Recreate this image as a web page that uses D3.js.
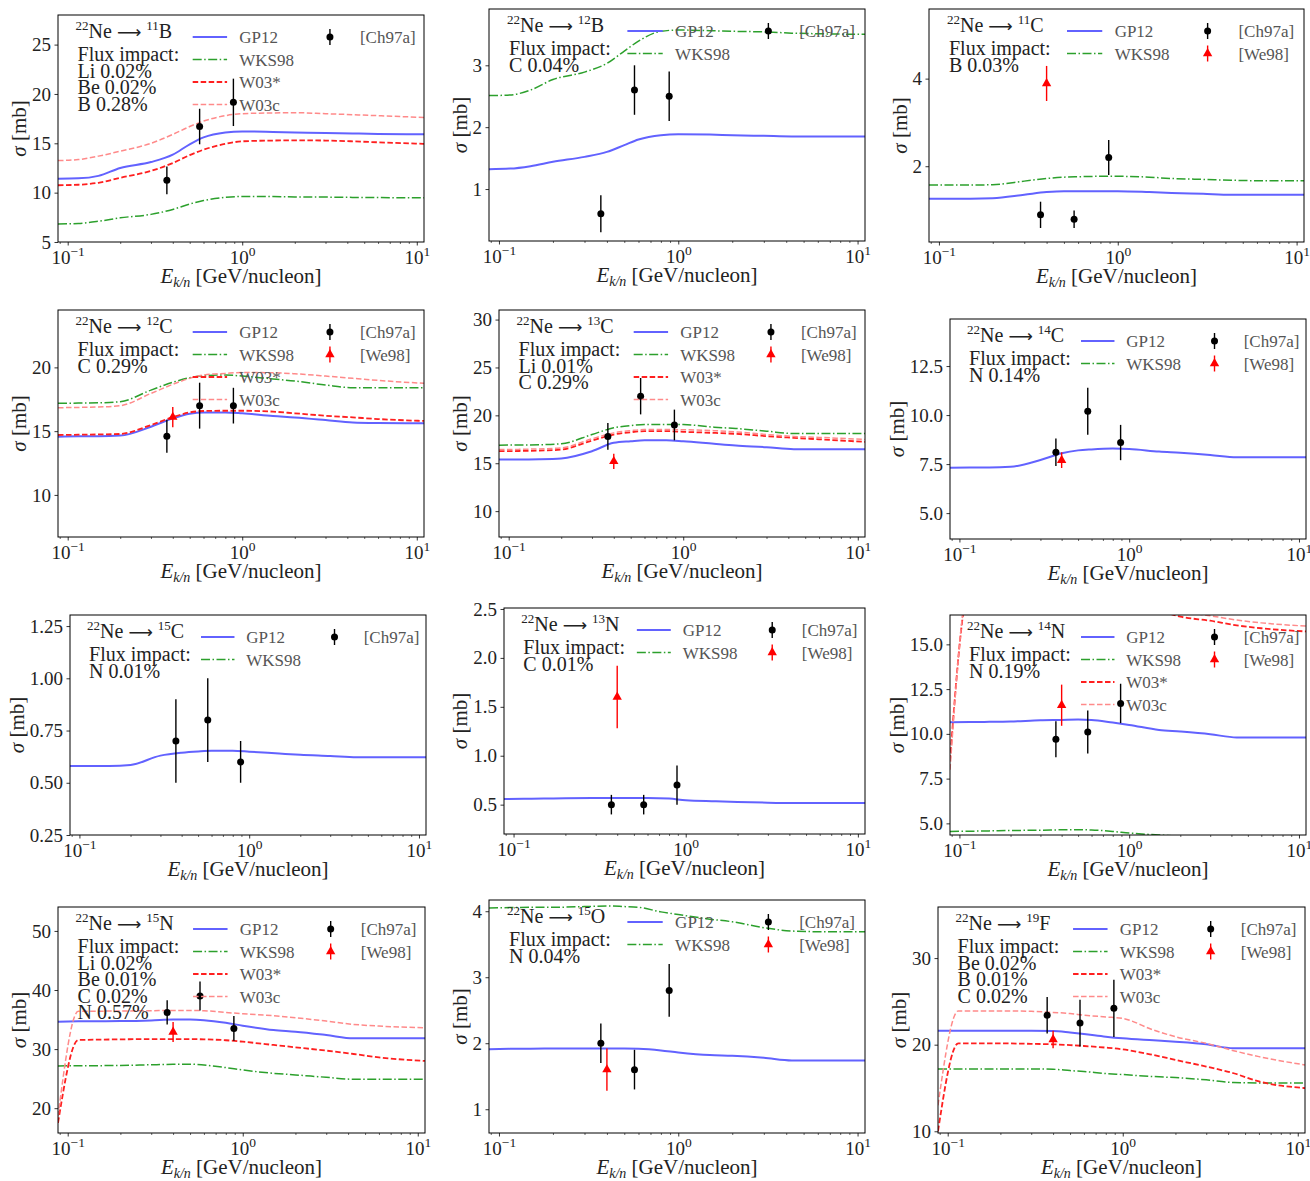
<!DOCTYPE html>
<html><head><meta charset="utf-8">
<script src="https://cdn.jsdelivr.net/npm/d3@7"></script>
<style>body{margin:0;background:#fff}</style>
</head><body>
<svg id="c" width="1310" height="1181" xmlns="http://www.w3.org/2000/svg"></svg>
<script>
// ---------------- DATA ----------------
const energies = [0.088, 0.115, 0.15, 0.2, 0.3, 0.4, 0.5, 0.6, 0.8, 1, 1.5, 2, 3, 4.3, 6, 11];
const ch97aE = [0.37, 0.57, 0.89];
const we98E = [0.40];
const xDomain = [0.088, 11];
const xMajorTicks = [0.1, 1, 10];
const xMinorTicks = [0.09, 0.2, 0.3, 0.4, 0.5, 0.6, 0.7, 0.8, 0.9, 2, 3, 4, 5, 6, 7, 8, 9];

// 22Ne -> 11B
const gp12_B11  = [11.42, 11.45, 11.7, 12.5, 13.1, 13.85, 14.9, 15.6, 16.1, 16.2, 16.15, 16.1, 16.05, 16.0, 15.95, 15.92];
const wks98_B11 = [6.83, 6.88, 7.1, 7.45, 7.8, 8.3, 8.85, 9.2, 9.52, 9.62, 9.6, 9.57, 9.55, 9.52, 9.5, 9.48];
const w03s_B11  = [10.75, 10.8, 11.0, 11.5, 12.2, 13.0, 13.8, 14.35, 14.95, 15.2, 15.28, 15.3, 15.28, 15.2, 15.1, 14.95];
const w03c_B11  = [13.25, 13.35, 13.7, 14.2, 15.0, 15.9, 16.7, 17.25, 17.8, 18.0, 18.08, 18.1, 18.0, 17.9, 17.8, 17.62];
const ch97a_B11 = [11.25, 16.7, 19.15];
const ch97aErr_B11 = [1.4, 1.8, 2.4];

// 22Ne -> 12B
const gp12_B12  = [1.32, 1.33, 1.37, 1.44, 1.52, 1.6, 1.71, 1.8, 1.87, 1.885, 1.88, 1.87, 1.86, 1.85, 1.85, 1.85];
const wks98_B12 = [2.51, 2.52, 2.6, 2.77, 2.89, 3.03, 3.23, 3.39, 3.55, 3.57, 3.56, 3.55, 3.54, 3.52, 3.51, 3.5];
const ch97a_B12 = [0.6, 2.6, 2.5];
const ch97aErr_B12 = [0.3, 0.4, 0.4];

// 22Ne -> 11C
const gp12_C11  = [1.26, 1.26, 1.26, 1.27, 1.35, 1.41, 1.43, 1.43, 1.43, 1.43, 1.41, 1.39, 1.37, 1.35, 1.35, 1.35];
const wks98_C11 = [1.57, 1.57, 1.57, 1.58, 1.66, 1.72, 1.75, 1.76, 1.77, 1.77, 1.75, 1.72, 1.7, 1.68, 1.67, 1.67];
const ch97a_C11 = [0.89, 0.79, 2.2];
const ch97aErr_C11 = [0.3, 0.2, 0.4];
const we98_C11 = [3.89];
const we98Err_C11 = [0.4];

// 22Ne -> 12C
const gp12_C12  = [14.57, 14.6, 14.6, 14.65, 15.35, 16.0, 16.37, 16.47, 16.47, 16.4, 16.19, 16.08, 15.87, 15.67, 15.63, 15.61];
const wks98_C12 = [17.18, 17.2, 17.22, 17.31, 18.22, 18.83, 19.19, 19.35, 19.4, 19.32, 19.09, 18.93, 18.62, 18.41, 18.41, 18.41];
const w03s_C12  = [14.7, 14.72, 14.74, 14.78, 15.48, 16.1, 16.47, 16.58, 16.6, 16.6, 16.53, 16.4, 16.21, 16.08, 15.95, 15.8];
const w03c_C12  = [16.84, 16.86, 16.9, 17.0, 17.96, 18.67, 19.14, 19.4, 19.53, 19.6, 19.58, 19.5, 19.32, 19.14, 18.98, 18.75];
const ch97a_C12 = [14.6, 17.0, 17.0];
const ch97aErr_C12 = [1.3, 1.8, 1.4];
const we98_C12 = [16.1];
const we98Err_C12 = [0.8];

// 22Ne -> 13C
const gp12_C13  = [15.39, 15.4, 15.42, 15.5, 16.26, 17.13, 17.3, 17.4, 17.4, 17.3, 17.03, 16.85, 16.68, 16.47, 16.47, 16.47];
const wks98_C13 = [16.89, 16.9, 16.93, 17.03, 18.0, 18.7, 18.94, 19.04, 19.05, 19.04, 18.77, 18.63, 18.35, 18.1, 18.1, 18.1];
const w03s_C13  = [16.26, 16.28, 16.32, 16.43, 17.37, 18.0, 18.24, 18.35, 18.35, 18.28, 18.17, 18.07, 17.83, 17.65, 17.5, 17.23];
const w03c_C13  = [16.43, 16.45, 16.5, 16.6, 17.55, 18.17, 18.4, 18.52, 18.52, 18.5, 18.4, 18.28, 18.0, 17.8, 17.7, 17.48];
const ch97a_C13 = [17.8, 22.0, 19.0];
const ch97aErr_C13 = [1.4, 1.9, 1.6];
const we98_C13 = [15.2];
const we98Err_C13 = [0.8];

// 22Ne -> 14C
const gp12_C14  = [7.32, 7.33, 7.33, 7.36, 7.71, 8.05, 8.2, 8.25, 8.29, 8.27, 8.14, 8.08, 7.97, 7.85, 7.85, 7.85];
const ch97a_C14 = [8.1, 10.2, 8.6];
const ch97aErr_C14 = [0.7, 1.2, 0.9];
const we98_C14 = [7.7];
const we98Err_C14 = [0.4];

// 22Ne -> 15C
const gp12_C15  = [0.58, 0.58, 0.58, 0.585, 0.63, 0.644, 0.65, 0.653, 0.653, 0.649, 0.64, 0.634, 0.628, 0.622, 0.622, 0.622];
const ch97a_C15 = [0.7, 0.8, 0.6];
const ch97aErr_C15 = [0.2, 0.2, 0.1];

// 22Ne -> 13N
const gp12_N13  = [0.558, 0.56, 0.562, 0.565, 0.567, 0.568, 0.568, 0.568, 0.562, 0.544, 0.534, 0.527, 0.52, 0.517, 0.517, 0.517];
const ch97a_N13 = [0.5, 0.5, 0.7];
const ch97aErr_N13 = [0.1, 0.1, 0.2];
const we98_N13 = [1.6];
const we98Err_N13 = [0.32];

// 22Ne -> 14N
const gp12_N14  = [10.65, 10.66, 10.67, 10.69, 10.76, 10.78, 10.8, 10.78, 10.63, 10.5, 10.22, 10.13, 9.98, 9.8, 9.8, 9.8];
const wks98_N14 = [4.55, 4.56, 4.58, 4.6, 4.62, 4.64, 4.65, 4.63, 4.55, 4.46, 4.35, 4.28, 4.15, 4.02, 4.02, 4.02];
const w03s_N14  = [8.5, 18.2, 18.3, 18.4, 18.5, 18.5, 18.5, 18.4, 18.2, 17.4, 16.9, 16.55, 16.32, 16.06, 15.9, 15.72];
const w03c_N14  = [8.0, 18.5, 18.6, 18.7, 18.8, 18.8, 18.8, 18.7, 18.5, 18.2, 17.5, 16.9, 16.6, 16.36, 16.2, 16.02];
const ch97a_N14 = [9.7, 10.1, 11.7];
const ch97aErr_N14 = [1.0, 1.2, 1.1];
const we98_N14 = [11.6];
const we98Err_N14 = [1.15];

// 22Ne -> 15N
const gp12_N15  = [34.63, 34.7, 34.72, 34.74, 34.85, 35.0, 35.0, 34.9, 34.46, 33.96, 33.22, 32.94, 32.38, 31.82, 31.82, 31.82];
const wks98_N15 = [27.15, 27.18, 27.2, 27.22, 27.35, 27.43, 27.45, 27.3, 26.87, 26.47, 25.9, 25.63, 25.23, 24.9, 24.9, 24.9];
const w03s_N15  = [17.5, 31.54, 31.6, 31.65, 31.7, 31.7, 31.7, 31.65, 31.5, 31.25, 30.7, 30.3, 29.74, 29.17, 28.6, 27.99];
const w03c_N15  = [18.6, 36.4, 36.42, 36.45, 36.5, 36.55, 36.55, 36.5, 36.2, 35.98, 35.64, 35.3, 34.74, 34.18, 33.9, 33.62];
const ch97a_N15 = [36.2, 39.0, 33.5];
const ch97aErr_N15 = [2.05, 2.45, 2.1];
const we98_N15 = [32.9];
const we98Err_N15 = [1.7];

// 22Ne -> 15O
const gp12_O15  = [1.908, 1.915, 1.918, 1.92, 1.92, 1.92, 1.92, 1.915, 1.89, 1.86, 1.82, 1.81, 1.78, 1.74, 1.74, 1.74];
const wks98_O15 = [4.05, 4.055, 4.06, 4.06, 4.07, 4.08, 4.07, 4.06, 3.99, 3.95, 3.88, 3.84, 3.75, 3.7, 3.69, 3.69];
const ch97a_O15 = [2.0, 1.6, 2.8];
const ch97aErr_O15 = [0.3, 0.3, 0.4];
const we98_O15 = [1.6];
const we98Err_O15 = [0.32];

// 22Ne -> 19F
const gp12_F19  = [21.6, 21.6, 21.6, 21.6, 21.6, 21.57, 21.4, 21.23, 20.92, 20.73, 20.5, 20.34, 20.04, 19.58, 19.58, 19.58];
const wks98_F19 = [17.2, 17.2, 17.2, 17.2, 17.2, 17.16, 17.01, 16.9, 16.67, 16.55, 16.32, 16.2, 15.94, 15.63, 15.58, 15.56];
const w03s_F19  = [10.0, 20.15, 20.15, 20.15, 20.1, 20.04, 19.95, 19.85, 19.66, 19.46, 18.8, 18.24, 17.47, 16.7, 15.75, 14.98];
const w03c_F19  = [13.0, 23.9, 23.9, 23.9, 23.85, 23.72, 23.6, 23.41, 23.2, 23.03, 21.69, 20.92, 20.15, 19.31, 18.62, 17.66];
const ch97a_F19 = [23.4, 22.5, 24.2];
const ch97aErr_F19 = [2.1, 2.7, 3.3];
const we98_F19 = [20.6];
const we98Err_F19 = [1.0];

// Panel texts
const isotopes = [["11","B"],["12","B"],["11","C"],["12","C"],["13","C"],["14","C"],["15","C"],["13","N"],["14","N"],["15","N"],["15","O"],["19","F"]];
const fluxLines = [
  ["Li 0.02%","Be 0.02%","B 0.28%"], ["C 0.04%"], ["B 0.03%"], ["C 0.29%"], ["Li 0.01%","C 0.29%"], ["N 0.14%"],
  ["N 0.01%"], ["C 0.01%"], ["N 0.19%"], ["Li 0.02%","Be 0.01%","C 0.02%","N 0.57%"], ["N 0.04%"], ["Be 0.02%","B 0.01%","C 0.02%"]
];
const yTickValues = [
  [5,10,15,20,25], [1,2,3], [2,4], [10,15,20], [10,15,20,25,30], [5.0,7.5,10.0,12.5],
  [0.25,0.50,0.75,1.00,1.25], [0.5,1.0,1.5,2.0,2.5], [5.0,7.5,10.0,12.5,15.0], [20,30,40,50], [1,2,3,4], [10,20,30]
];
const yTickFormats = ["d","d","d","d","d",".1f",".2f",".1f",".1f","d","d","d"];
const yDomains = [
  [5,28], [0.16,3.91], [0.27,5.59], [6.7,24.5], [7.3,31.0], [3.68,14.9],
  [0.25,1.303], [0.2,2.51], [4.35,16.64], [15.8,54.05], [0.64,4.17], [9.8,35.9]
];

// ---------------- STYLE / LAYOUT ----------------
const boxes = [
  [58,15,424,242], [489,9,865,241], [929,9,1304,242],
  [58,310,424,537], [499,310,865,537], [950,319,1306,539],
  [70,615,426,835], [504,608,865,834], [950,615,1306,835],
  [58,907,425,1133], [489,900,865,1133], [938,907,1305,1133]
];
const modelStyle = {
  "GP12":  {color:"#6262ff", width:2.0, dash:null},
  "WKS98": {color:"#2ca02c", width:1.5, dash:"9,2.5,1.5,2.5"},
  "W03*":  {color:"#ff1f1f", width:1.8, dash:"5.5,2.5"},
  "W03c":  {color:"#ff8a8a", width:1.5, dash:"5.5,2.5"}
};
const serif = "'Liberation Serif','Times New Roman',serif";

const P = (gp, wk, ws, wc, ch, chE, we, weE, legModels, legExp) => ({gp, wk, ws, wc, ch, chE, we, weE, legModels, legExp});
const ALL4 = ["GP12","WKS98","W03*","W03c"], TWO = ["GP12","WKS98"];
const panels = [
  P(gp12_B11, wks98_B11, w03s_B11, w03c_B11, ch97a_B11, ch97aErr_B11, null, null, ALL4, ["Ch97a"]),
  P(gp12_B12, wks98_B12, null, null, ch97a_B12, ch97aErr_B12, null, null, TWO, ["Ch97a"]),
  P(gp12_C11, wks98_C11, null, null, ch97a_C11, ch97aErr_C11, we98_C11, we98Err_C11, TWO, ["Ch97a","We98"]),
  P(gp12_C12, wks98_C12, w03s_C12, w03c_C12, ch97a_C12, ch97aErr_C12, we98_C12, we98Err_C12, ALL4, ["Ch97a","We98"]),
  P(gp12_C13, wks98_C13, w03s_C13, w03c_C13, ch97a_C13, ch97aErr_C13, we98_C13, we98Err_C13, ALL4, ["Ch97a","We98"]),
  P(gp12_C14, null, null, null, ch97a_C14, ch97aErr_C14, we98_C14, we98Err_C14, TWO, ["Ch97a","We98"]),
  P(gp12_C15, null, null, null, ch97a_C15, ch97aErr_C15, null, null, TWO, ["Ch97a"]),
  P(gp12_N13, null, null, null, ch97a_N13, ch97aErr_N13, we98_N13, we98Err_N13, TWO, ["Ch97a","We98"]),
  P(gp12_N14, wks98_N14, w03s_N14, w03c_N14, ch97a_N14, ch97aErr_N14, we98_N14, we98Err_N14, ALL4, ["Ch97a","We98"]),
  P(gp12_N15, wks98_N15, w03s_N15, w03c_N15, ch97a_N15, ch97aErr_N15, we98_N15, we98Err_N15, ALL4, ["Ch97a","We98"]),
  P(gp12_O15, wks98_O15, null, null, ch97a_O15, ch97aErr_O15, we98_O15, we98Err_O15, TWO, ["Ch97a","We98"]),
  P(gp12_F19, wks98_F19, w03s_F19, w03c_F19, ch97a_F19, ch97aErr_F19, we98_F19, we98Err_F19, ALL4, ["Ch97a","We98"])
];

const svg = d3.select("#c");
svg.append("rect").attr("width",1310).attr("height",1181).attr("fill","#fff");
const defs = svg.append("defs");
const tri = d3.symbol().type(d3.symbolTriangle).size(38);

function styleLine(sel, st) {
  sel.attr("fill","none").attr("stroke",st.color).attr("stroke-width",st.width);
  if (st.dash) sel.attr("stroke-dasharray", st.dash);
  return sel;
}

panels.forEach((p, k) => {
  const [x0,y0,x1,y1] = boxes[k];
  const W = x1-x0, H = y1-y0;
  const x = d3.scaleLog().domain(xDomain).range([x0,x1]);
  const y = d3.scaleLinear().domain(yDomains[k]).range([y1,y0]);
  const g = svg.append("g");
  const cid = "clip"+k;
  defs.append("clipPath").attr("id",cid).append("rect").attr("x",x0).attr("y",y0).attr("width",W).attr("height",H);

  const line = d3.line().x((d,i)=>x(energies[i])).y(d=>y(d)).curve(d3.curveMonotoneX);
  const series = [["GP12",p.gp],["WKS98",p.wk],["W03*",p.ws],["W03c",p.wc]];
  const lg = g.append("g").attr("clip-path",`url(#${cid})`);
  series.forEach(([name, vals]) => {
    if (!vals) return;
    styleLine(lg.append("path").attr("d", line(vals)), modelStyle[name]).attr("stroke-linejoin","round");
  });

  // experimental data
  const dg = g.append("g").attr("clip-path",`url(#${cid})`);
  if (p.ch) {
    p.ch.forEach((v,i) => {
      const e = p.chE[i], xx = x(ch97aE[i]);
      dg.append("line").attr("x1",xx).attr("x2",xx).attr("y1",y(v-e)).attr("y2",y(v+e)).attr("stroke","#000").attr("stroke-width",1.4);
      dg.append("circle").attr("cx",xx).attr("cy",y(v)).attr("r",3.5).attr("fill","#000");
    });
  }
  if (p.we) {
    p.we.forEach((v,i) => {
      const e = p.weE[i], xx = x(we98E[i]);
      dg.append("line").attr("x1",xx).attr("x2",xx).attr("y1",y(v-e)).attr("y2",y(v+e)).attr("stroke","#ff0000").attr("stroke-width",1.4);
      dg.append("path").attr("d",tri()).attr("transform",`translate(${xx},${y(v)})`).attr("fill","#ff0000");
    });
  }

  // axes
  const axB = g.append("g").attr("transform",`translate(0,${y1})`)
    .call(d3.axisBottom(x).tickValues(xMajorTicks).tickSize(3.5).tickPadding(5).tickFormat(""));
  axB.selectAll(".tick text").each(function(d){
    const t = d3.select(this);
    t.text("");
    t.append("tspan").text("10");
    const ex = Math.round(Math.log10(d));
    t.append("tspan").attr("font-size",13.5).attr("dy",-8).text(ex < 0 ? "\u2212"+(-ex) : String(ex));
  });
  g.append("g").attr("transform",`translate(0,${y1})`)
    .call(d3.axisBottom(x).tickValues(xMinorTicks).tickSize(2).tickFormat(""))
    .call(a => a.select(".domain").remove())
    .selectAll("line").attr("stroke-width",0.6);
  const axL = g.append("g").attr("transform",`translate(${x0},0)`)
    .call(d3.axisLeft(y).tickValues(yTickValues[k]).tickFormat(d3.format(yTickFormats[k])).tickSize(3.5).tickPadding(3.5));
  [axB, axL].forEach(a => {
    a.select(".domain").remove();
    a.selectAll("text").attr("font-family",serif).attr("font-size",19).attr("fill","#222");
    a.selectAll("line").attr("stroke","#000").attr("stroke-width",0.8);
  });
  let maxW = 0;
  axL.selectAll(".tick text").each(function(){ maxW = Math.max(maxW, this.getComputedTextLength()); });

  g.append("rect").attr("x",x0).attr("y",y0).attr("width",W).attr("height",H)
    .attr("fill","none").attr("stroke","#000").attr("stroke-width",1);

  // axis labels
  const xl = g.append("text").attr("x",(x0+x1)/2).attr("y",y1+41).attr("text-anchor","middle")
    .attr("font-family",serif).attr("font-size",21).attr("fill","#222");
  xl.append("tspan").attr("font-style","italic").text("E");
  xl.append("tspan").attr("font-style","italic").attr("font-size",14).attr("dy",4).text("k/n");
  xl.append("tspan").attr("dy",-4).text(" [GeV/nucleon]");
  const ylx = x0 - 7 - maxW - 6, yly = (y0+y1)/2;
  const yl = g.append("text").attr("transform",`translate(${ylx},${yly}) rotate(-90)`).attr("text-anchor","middle")
    .attr("font-family",serif).attr("font-size",21).attr("fill","#222");
  yl.append("tspan").attr("font-style","italic").text("\u03c3");
  yl.append("tspan").text(" [mb]");

  // annotation
  const ax = x0 + 0.048*W;
  const tt = g.append("text").attr("x",ax).attr("y",y0+23).attr("font-family",serif).attr("font-size",20).attr("fill","#222");
  tt.append("tspan").attr("font-size",13).attr("dy",-8).text("22");
  tt.append("tspan").attr("dy",8).text("Ne ");
  tt.append("tspan").attr("font-family","'DejaVu Sans'").attr("font-size",17).text("\u27f6");
  tt.append("tspan").attr("font-size",13).attr("dy",-8).attr("dx",5).text(isotopes[k][0]);
  tt.append("tspan").attr("dy",8).text(isotopes[k][1]);
  g.append("text").attr("x",ax+2).attr("y",y0+46).attr("font-family",serif).attr("font-size",20).attr("fill","#222").text("Flux impact:");
  fluxLines[k].forEach((s,i) => {
    g.append("text").attr("x",ax+2).attr("y",y0+62.5+i*16.6).attr("font-family",serif).attr("font-size",20).attr("fill","#222").text(s);
  });

  // legend: models
  p.legModels.forEach((m,i) => {
    const ly = y0 + 22 + i*22.5;
    styleLine(g.append("line").attr("x1",x0+0.368*W).attr("x2",x0+0.462*W).attr("y1",ly).attr("y2",ly), modelStyle[m]);
    g.append("text").attr("x",x0+0.495*W).attr("y",ly+6).attr("font-family",serif).attr("font-size",17).attr("fill","#555").text(m);
  });
  // legend: experiments
  p.legExp.forEach((m,i) => {
    const ly = y0 + 22 + i*22.5, mx = x0 + 0.743*W;
    const col = m === "Ch97a" ? "#000" : "#ff0000";
    g.append("line").attr("x1",mx).attr("x2",mx).attr("y1",ly-8).attr("y2",ly+8).attr("stroke",col).attr("stroke-width",1.4);
    if (m === "Ch97a") g.append("circle").attr("cx",mx).attr("cy",ly).attr("r",3.5).attr("fill","#000");
    else g.append("path").attr("d",tri()).attr("transform",`translate(${mx},${ly})`).attr("fill","#ff0000");
    g.append("text").attr("x",x0+0.825*W).attr("y",ly+6).attr("font-family",serif).attr("font-size",17).attr("fill","#555").text("["+m+"]");
  });
});
</script>
</body></html>
